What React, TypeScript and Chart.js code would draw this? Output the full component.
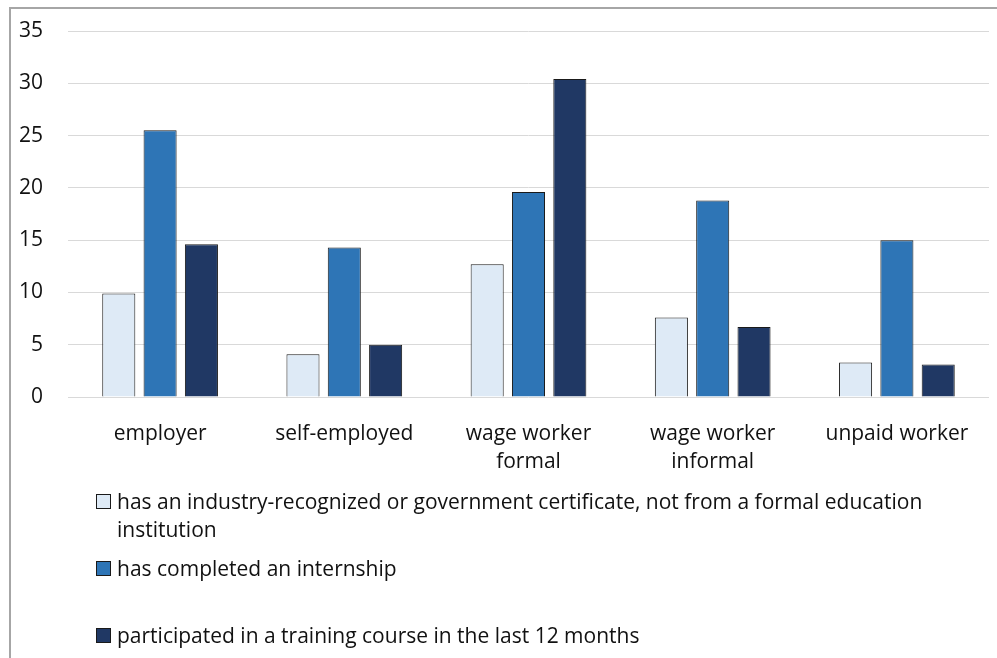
import React, { useEffect, useRef } from "react";
import { Chart, registerables } from "chart.js";

Chart.register(...registerables);

const CATEGORIES: (string | string[])[] = [
  "employer",
  "self-employed",
  ["wage worker", "formal"],
  ["wage worker", "informal"],
  "unpaid worker",
];

const CERTIFICATE = [9.9, 4.1, 12.7, 7.6, 3.3];
const INTERNSHIP = [25.5, 14.3, 19.6, 18.8, 15.0];
const TRAINING = [14.6, 5.0, 30.4, 6.7, 3.1];

const SERIES_LABELS: string[][] = [
  ["has an industry-recognized or government certificate, not from a formal education", "institution"],
  ["has completed an internship"],
  ["participated in a training course in the last 12 months"],
];

const COLORS = ["#DEEAF6", "#2E75B6", "#203864"];
const Y_MIN = 0;
const Y_MAX = 35;
const Y_STEP = 5;

const FONT = "'Open Sans'";
const FONT_SIZE = 21;

export default function App() {
  const ref = useRef<HTMLCanvasElement | null>(null);

  useEffect(() => {
    document.body.style.margin = "0";
    if (!ref.current) return;
    const chart = new Chart(ref.current, {
      type: "bar",
      data: {
        labels: CATEGORIES,
        datasets: [CERTIFICATE, INTERNSHIP, TRAINING].map((d, i) => ({
          label: SERIES_LABELS[i].join(" "),
          data: d,
          backgroundColor: COLORS[i],
          borderColor: "#1a1a1a",
          borderWidth: 1,
          categoryPercentage: 0.673,
          barPercentage: 0.8,
        })),
      },
      options: {
        responsive: false,
        animation: false,
        layout: { padding: { top: 31, right: 8, bottom: 0, left: 0 } },
        plugins: {
          legend: { display: false },
          tooltip: { enabled: false },
        },
        scales: {
          x: {
            grid: { display: false },
            border: { display: false },
            ticks: {
              color: "#111",
              padding: 15,
              maxRotation: 0,
              autoSkip: false,
              font: { family: FONT, size: FONT_SIZE, lineHeight: 28 / FONT_SIZE },
            },
            afterFit: (s: any) => {
              s.height = 261;
            },
          },
          y: {
            min: Y_MIN,
            max: Y_MAX,
            grid: {
              color: "#d9d9d9",
              lineWidth: 1,
              drawTicks: true,
              tickLength: 25,
              tickColor: "rgba(0,0,0,0)",
            },
            border: { display: false },
            ticks: {
              stepSize: Y_STEP,
              color: "#111",
              padding: 0,
              font: { family: FONT, size: FONT_SIZE },
            },
            afterFit: (s: any) => {
              s.width = 68;
            },
          },
        },
      },
    });
    return () => chart.destroy();
  }, []);

  const legendTops = [486.5, 553.5, 620.5];

  return (
    <div>
      <div
        style={{
          position: "fixed",
          left: 9,
          top: 7,
          width: 988,
          height: 651,
          borderLeft: "2px solid #a6a6a6",
          borderTop: "2px solid #a6a6a6",
          boxSizing: "border-box",
        }}
      />
      <canvas
        ref={ref}
        width={997}
        height={658}
        style={{ position: "fixed", left: 0, top: 0, width: 997, height: 658 }}
      />
      {SERIES_LABELS.map((lines, i) => (
        <div
          key={i}
          style={{
            position: "fixed",
            left: 96,
            top: legendTops[i],
            fontFamily: FONT,
            fontSize: FONT_SIZE,
            lineHeight: "28px",
            color: "#111",
            whiteSpace: "nowrap",
          }}
        >
          <span
            style={{
              position: "absolute",
              left: 0,
              top: 7,
              width: 15,
              height: 15,
              boxSizing: "border-box",
              background: COLORS[i],
              border: "1px solid #1a1a1a",
            }}
          />
          <div style={{ marginLeft: 21 }}>
            {lines.map((l, j) => (
              <div key={j}>{l}</div>
            ))}
          </div>
        </div>
      ))}
    </div>
  );
}
